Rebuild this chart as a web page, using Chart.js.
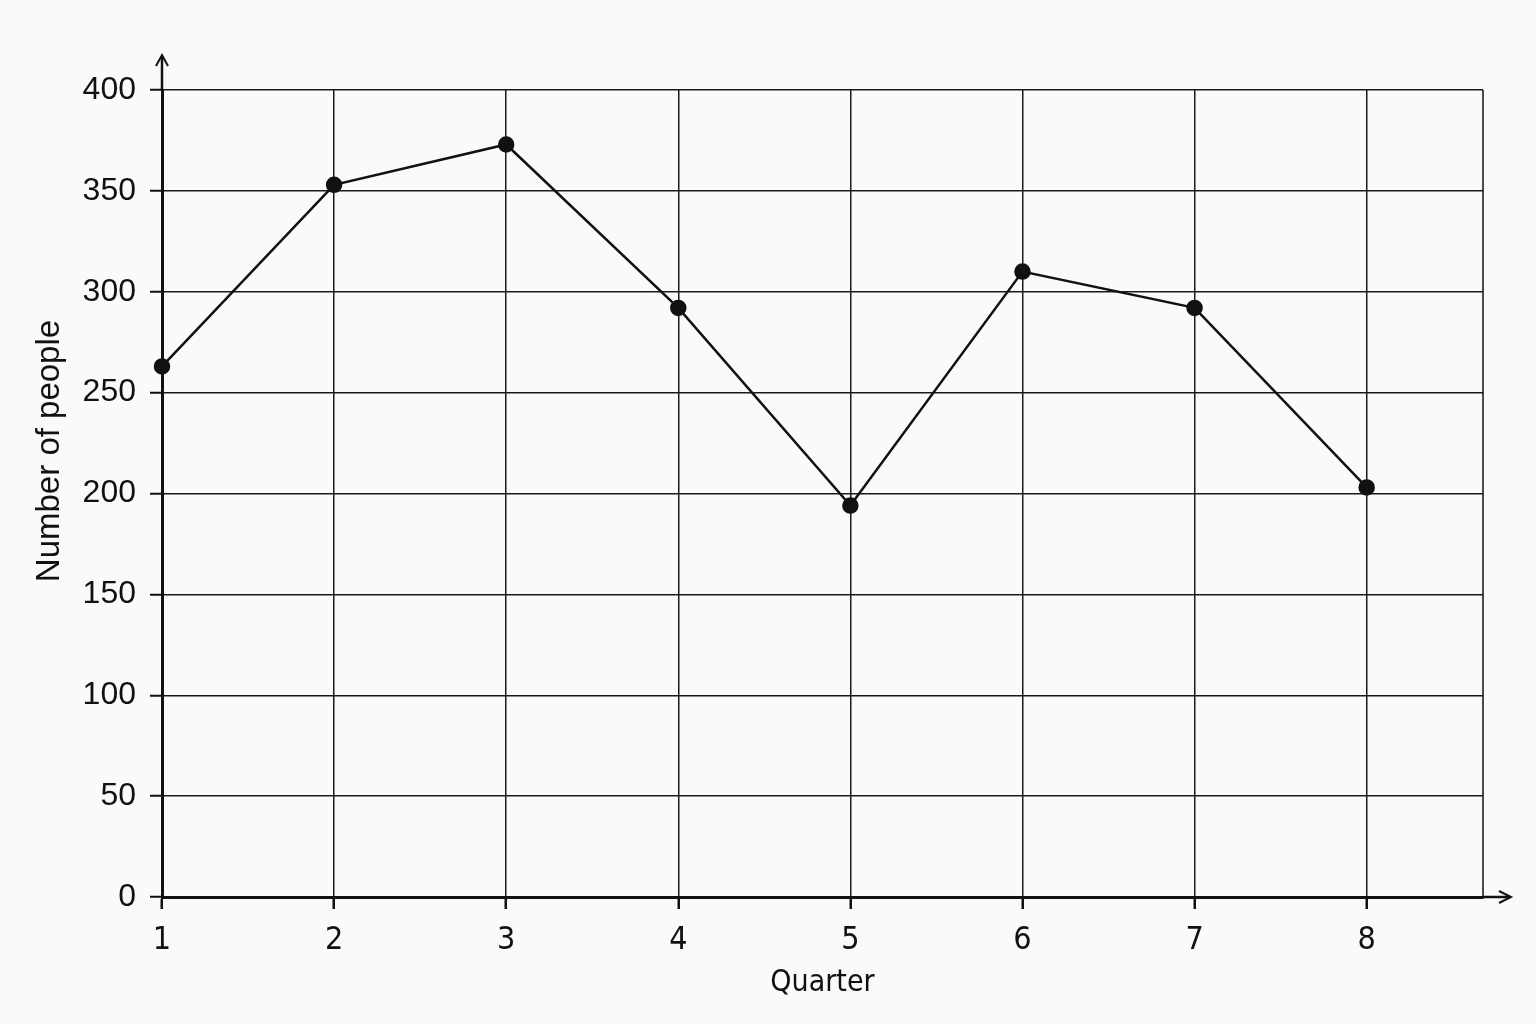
<!DOCTYPE html>
<html>
<head>
<meta charset="utf-8">
<script src="https://cdn.jsdelivr.net/npm/chart.js@4/dist/chart.umd.min.js"></script>
<style>
  html, body { margin: 0; padding: 0; background: #fafafa; }
  #wrap { width: 1536px; height: 1024px; }
</style>
</head>
<body>
<div id="wrap"><canvas id="c" width="1536" height="1024"></canvas></div>
<script>
const quarters = [1, 2, 3, 4, 5, 6, 7, 8];
const people = [263, 353, 373, 292, 194, 310, 292, 203];
const yTickValues = [0, 50, 100, 150, 200, 250, 300, 350, 400];
const xTitle = "Quarter";
const yTitle = "Number of people";

const decor = {
  id: 'decor',
  beforeDraw(chart) {
    const ctx = chart.ctx;
    ctx.save();
    ctx.fillStyle = '#fafafa';
    ctx.fillRect(0, 0, chart.width, chart.height);
    ctx.restore();
  },
  afterDraw(chart) {
    const ctx = chart.ctx;
    const a = chart.chartArea;
    ctx.save();
    ctx.strokeStyle = '#111';
    // right border
    ctx.lineWidth = 1.5;
    ctx.beginPath();
    ctx.moveTo(a.right, a.top);
    ctx.lineTo(a.right, a.bottom);
    ctx.stroke();
    // y arrow
    ctx.lineWidth = 2.5;
    ctx.beginPath();
    ctx.moveTo(a.left, a.top);
    ctx.lineTo(a.left, a.top - 34);
    ctx.stroke();
    ctx.lineWidth = 2;
    ctx.beginPath();
    ctx.moveTo(a.left - 6, a.top - 24);
    ctx.lineTo(a.left, a.top - 35);
    ctx.lineTo(a.left + 6, a.top - 24);
    ctx.stroke();
    // x arrow
    ctx.lineWidth = 2.5;
    ctx.beginPath();
    ctx.moveTo(a.right, a.bottom);
    ctx.lineTo(a.right + 27, a.bottom);
    ctx.stroke();
    ctx.lineWidth = 2;
    ctx.beginPath();
    ctx.moveTo(a.right + 16, a.bottom - 6);
    ctx.lineTo(a.right + 28, a.bottom);
    ctx.lineTo(a.right + 16, a.bottom + 6);
    ctx.stroke();
    // titles
    ctx.fillStyle = '#111';
    ctx.font = '30px "DejaVu Sans Condensed", "DejaVu Sans"';
    ctx.textAlign = 'center';
    ctx.textBaseline = 'alphabetic';
    ctx.fillText(xTitle, (a.left + a.right) / 2, 991);
    ctx.translate(59, 451);
    ctx.rotate(-Math.PI / 2);
    ctx.font = '33px "Liberation Sans"';
    ctx.fillText(yTitle, 0, 0);
    ctx.restore();
  }
};

new Chart(document.getElementById('c'), {
  type: 'line',
  data: {
    datasets: [{
      data: quarters.map((q, i) => ({ x: q, y: people[i] })),
      borderColor: '#111',
      backgroundColor: '#111',
      borderWidth: 2.5,
      pointRadius: 7,
      pointHoverRadius: 7,
      pointBackgroundColor: '#111',
      pointBorderColor: '#111',
      tension: 0,
      clip: false
    }]
  },
  options: {
    responsive: false,
    animation: false,
    devicePixelRatio: 1,
    layout: { padding: { top: 90, right: 53, left: 0, bottom: 0 } },
    plugins: { legend: { display: false }, tooltip: { enabled: false } },
    scales: {
      x: {
        type: 'linear',
        min: 1,
        max: 8.676,
        afterBuildTicks: s => { s.ticks = quarters.map(v => ({ value: v })); },
        afterFit: s => { s.height = 127; },
        grid: { color: '#1a1a1a', lineWidth: 1.5, tickLength: 12, drawTicks: true, tickColor: '#111', tickWidth: 2.5 },
        border: { display: true, color: '#111', width: 3 },
        ticks: {
          color: '#111',
          padding: 12,
          maxRotation: 0,
          font: { family: '"DejaVu Sans Condensed", "DejaVu Sans"', size: 32 },
          callback: v => String(v)
        }
      },
      y: {
        min: 0,
        max: 400,
        afterBuildTicks: s => { s.ticks = yTickValues.map(v => ({ value: v })); },
        afterFit: s => { s.width = 162; },
        grid: { color: '#1a1a1a', lineWidth: 1.5, tickLength: 12, tickColor: '#111', tickWidth: 2 },
        border: { display: true, color: '#111', width: 3 },
        ticks: {
          color: '#111',
          padding: 14,
          font: { family: 'Liberation Sans', size: 32 },
          callback: v => String(v)
        }
      }
    }
  },
  plugins: [decor]
});
</script>
</body>
</html>
